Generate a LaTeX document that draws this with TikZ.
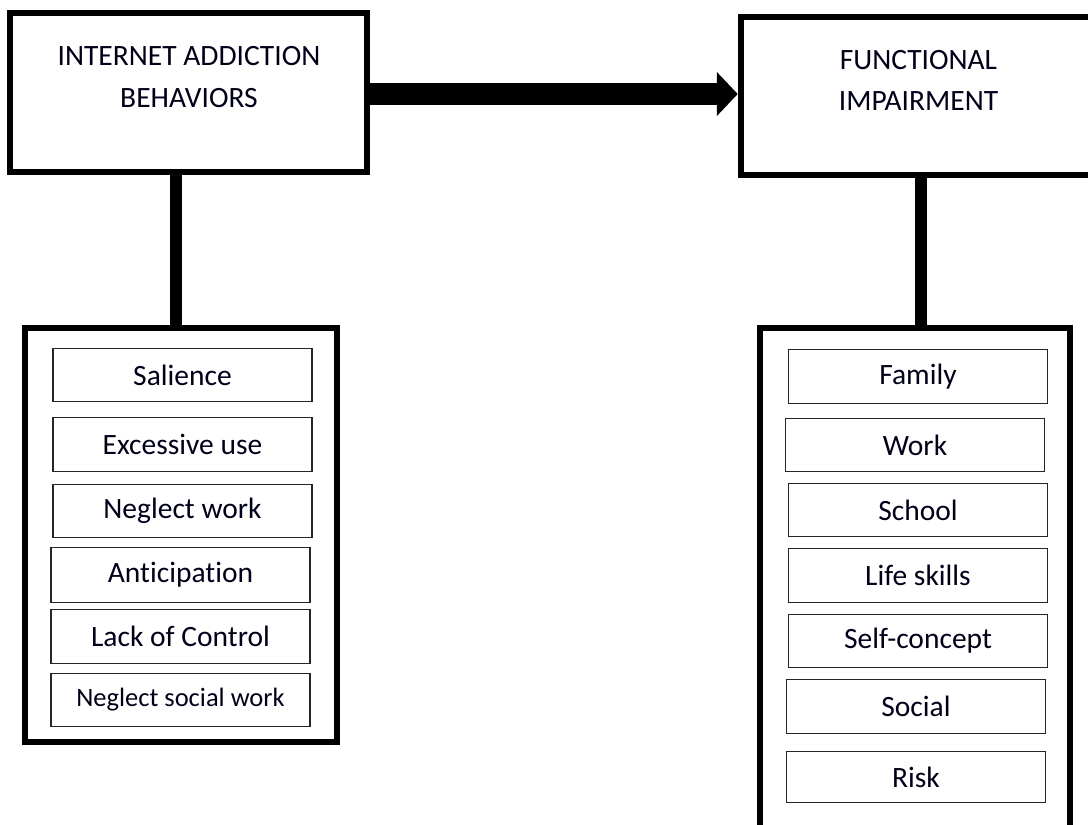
\documentclass[tikz,border=0pt]{standalone}
\usepackage{fontspec}
\setmainfont{Carlito}[Ligatures={NoCommon}]
\usetikzlibrary{arrows.meta,calc}
\begin{document}
\begin{tikzpicture}[x=1pt,y=-1pt,
  thickbox/.style={draw=black,line width=6.5pt,rectangle,inner sep=0pt,fill=white},
  headtext/.style={align=center,inner sep=0pt,text=black!90!blue,font=\fontsize{29.5}{41.5}\selectfont},
  itembox/.style={draw=black!85,line width=1.5pt,rectangle,inner sep=0pt,minimum width=259pt,
     text=black!90!blue,font=\fontsize{29.5}{32}\selectfont},
  stemline/.style={line width=12.5pt,draw=black},
  bigarrow/.style={line width=22pt,draw=black,-{Triangle[width=43pt,length=21pt]}}
]
\fill[white] (0,0) rectangle (1088,825);
\useasboundingbox (0,0) rectangle (1088,825);

% header boxes
\node[thickbox,minimum width=357pt,minimum height=159pt] (iab) at (188.5,92.5) {};
\node[headtext] (iabt) at (189,77) {INTERNET ADDICTION\\BEHAVIORS};
\node[thickbox,minimum width=360pt,minimum height=158pt] (fi) at (921,96) {};
\node[headtext] (fit) at (918.5,80.5) {FUNCTIONAL\\IMPAIRMENT};

% list boxes
\node[thickbox,minimum width=312pt,minimum height=414pt] (lbox) at (181,535) {};
\node[thickbox,minimum width=310pt,minimum height=530pt] (rbox) at (915,593) {};

% stems
\draw[stemline] ([xshift=-12.5pt]iab.south) -- ([xshift=-12.5pt]iab.south |- lbox.north);
\draw[stemline] (fi.south) -- (fi.south |- rbox.north);

% arrow
\draw[bigarrow] (iab.east |- 0,94) -- (fi.west |- 0,94);

% left items
\node[itembox,minimum height=53pt] (l1) at (182.5,375) {Salience};
\node[itembox,minimum height=54pt] (l2) at (182.5,444.5) {Excessive use};
\node[itembox,minimum height=53pt] (l3) at (182.5,511) {Neglect work};
\node[itembox,minimum height=55pt] (l4) at (180.5,575) {Anticipation};
\node[itembox,minimum height=54pt] (l5) at (180.5,636.5) {Lack of Control};
\node[itembox,minimum height=53pt,font=\fontsize{26.5}{30}\selectfont] (l6) at (180.5,700) {Neglect social work};

% right items
\node[itembox,minimum height=54pt] (r1) at (918,376.5) {Family};
\node[itembox,minimum height=53pt] (r2) at (915,445) {Work};
\node[itembox,minimum height=53pt] (r3) at (918,510) {School};
\node[itembox,minimum height=54pt] (r4) at (918,575.5) {Life skills};
\node[itembox,minimum height=53pt] (r5) at (918,641) {Self-concept};
\node[itembox,minimum height=54pt] (r6) at (916,706.5) {Social};
\node[itembox,minimum height=51pt] (r7) at (916,777) {Risk};
\end{tikzpicture}
\end{document}
